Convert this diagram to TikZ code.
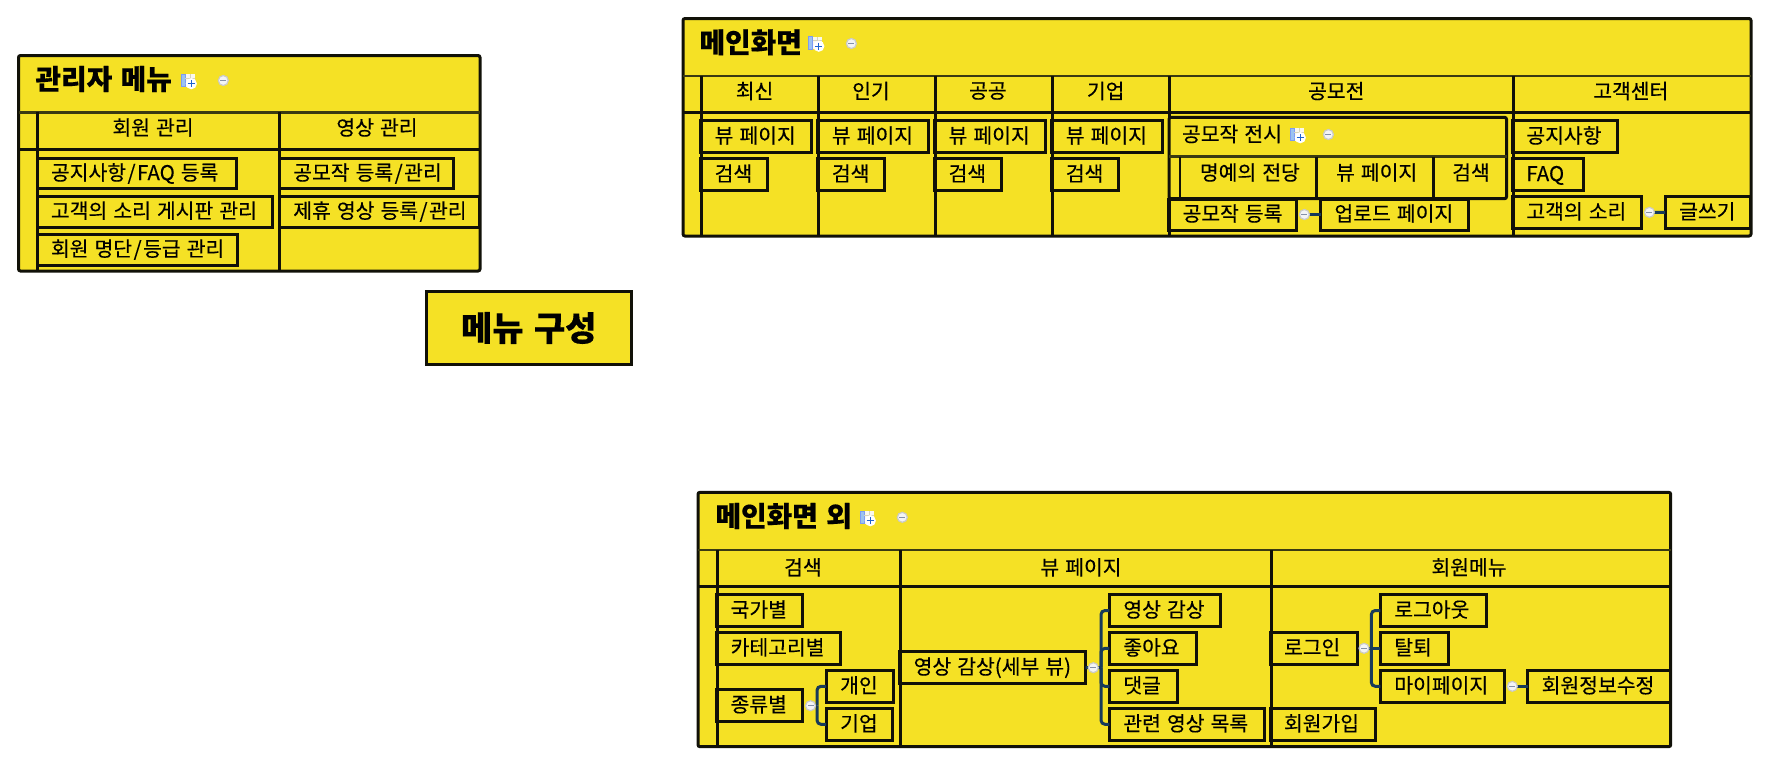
\documentclass[tikz,border=0pt]{standalone}
\usepackage{fontspec}
\setmainfont{Noto Sans CJK KR}[FakeBold=0.3,WordSpace=1.33]
\definecolor{tyellow}{HTML}{F5E125}
\definecolor{tline}{HTML}{111108}
\definecolor{thead}{HTML}{3A3A12}
\definecolor{tconn}{HTML}{173A5A}
\definecolor{mring}{HTML}{CBCBC8}
\definecolor{mbar}{HTML}{8490A8}
\definecolor{iblue}{HTML}{9CC3F0}
\definecolor{igrid}{HTML}{EDE9C8}
\definecolor{iplus}{HTML}{1F63D0}
\pgfdeclarelayer{fg}
\pgfsetlayers{main,fg}
\tikzset{
  framebox/.style={draw=tline,fill=tyellow,line width=3pt,rounded corners=2pt,rectangle,inner sep=0pt,outer sep=0pt},
  rulethin/.style={draw=thead,line width=2.6pt},
  ruleline/.style={draw=tline,line width=3pt},
  itembox/.style={draw=tline,line width=3pt,rectangle,inner ysep=0pt,inner xsep=14pt,outer sep=0pt,font=\fontsize{20.4}{24}\selectfont,anchor=north west},
  celltext/.style={inner sep=0pt,outer sep=0pt,font=\fontsize{20.4}{24}\selectfont},
  titletext/.style={inner sep=0pt,outer sep=0pt,font=\fontsize{27.8}{30}\selectfont\bfseries,anchor=west},
  minusmark/.style={circle,draw=mring,fill=white!90!mbar,line width=1.2pt,minimum size=10pt,inner sep=0pt,outer sep=0pt,
    path picture={\draw[mbar,line width=1.4pt] ([xshift=-3pt]path picture bounding box.center) -- ([xshift=3pt]path picture bounding box.center);}},
  conn/.style={draw=tconn,line width=3pt,rounded corners=4pt},
}
\newcommand{\slashk}{\kern1.5pt/\kern1.5pt}
\newcommand{\mbx}[6]{%
  \pgfmathsetmacro{\mbxw}{#4-#2}\pgfmathsetmacro{\mbxh}{#5-#3}\pgfmathsetmacro{\mbxt}{#4-#2-28}%
  \node[itembox,minimum width=\mbxw pt,minimum height=\mbxh pt] (#1) at (#2,#3)
    {\hbox to \mbxt pt{\rule[-.275em]{0pt}{1.2em}#6\hss}};}
\newcommand{\tblicon}[2]{%
  \begin{scope}[shift={(#1,#2)}]
    \fill[white!70!igrid] (-8,-7.5) rectangle (5.5,5);
    \fill[iblue] (-8,-7.5) rectangle (-4,5);
    \draw[iblue!80!blue,line width=.6pt] (-8,-7.5) rectangle (-4,5);
    \draw[igrid!80!gray,line width=.7pt] (-4,-3.5) -- (5.5,-3.5) (1,-7.5) -- (1,5);
    \fill[white] (2.3,2.2) circle (5.6pt);
    \draw[iplus,line width=1.2pt] (-1.3,2.2) -- (5.9,2.2) (2.3,-1.4) -- (2.3,5.8);
  \end{scope}}
\begin{document}
\begin{tikzpicture}[x=1pt,y=-1pt]
\useasboundingbox (0,0) rectangle (1769,764);

%% admin table
\node[framebox,anchor=north west,minimum width=461.5pt,minimum height=215.5pt] (admin) at (18.5,55.5) {};
\draw[rulethin] (18.5,112.3) -- (480,112.3);
\draw[ruleline] (18.5,149) -- (480,149) (37,112.3) -- (37,271) (279,112.3) -- (279,271);
\node[titletext] (admint) at (35.5,79) {관리자 메뉴};
\tblicon{189}{81.5}
\begin{pgfonlayer}{fg}\node[minusmark] (admm) at (223.3,80.5) {};\end{pgfonlayer}
\node[celltext] (adh1) at (153,127.5) {회원 관리};
\node[celltext] (adh2) at (377,127.5) {영상 관리};
\mbx{a1}{37}{158.3}{236}{188.7}{공지사항\slashk FAQ 등록}
\mbx{a2}{37}{196.3}{272.3}{227}{고객의 소리 게시판 관리}
\mbx{a3}{37}{234.3}{237}{265}{회원 명단\slashk 등급 관리}
\mbx{b1}{279.3}{158.3}{453.3}{188.7}{공모작 등록\slashk 관리}
\mbx{b2}{279.3}{196.3}{479}{227}{제휴 영상 등록\slashk 관리}

%% title box
\node[draw=tline,fill=tyellow,line width=3pt,rectangle,inner sep=0pt,outer sep=0pt,anchor=north west,minimum width=205pt,minimum height=73.4pt,font=\fontsize{34}{38}\selectfont\bfseries] (menu) at (426.3,291.3) {메뉴 구성};

%% main table
\node[framebox,anchor=north west,minimum width=1068pt,minimum height=217.5pt] (mainf) at (683,18.5) {};
\draw[rulethin] (683,76) -- (1751,76);
\draw[ruleline] (683,112.7) -- (1751,112.7)
  (701.4,76) -- (701.4,236) (818.2,76) -- (818.2,236) (935.4,76) -- (935.4,236)
  (1052,76) -- (1052,236) (1169.3,76) -- (1169.3,236) (1513,76) -- (1513,236);
\node[titletext] (maint) at (699.5,42.3) {메인화면};
\tblicon{816.5}{44}
\begin{pgfonlayer}{fg}\node[minusmark] (mainm) at (851.4,43.5) {};\end{pgfonlayer}
\node[celltext] (mh1) at (754.6,91) {최신};
\node[celltext] (mh2) at (871,91) {인기};
\node[celltext] (mh3) at (987.9,91) {공공};
\node[celltext] (mh4) at (1105.7,91) {기업};
\node[celltext] (mh5) at (1336.3,91) {공모전};
\node[celltext] (mh6) at (1630.8,91) {고객센터};
\mbx{v1}{700.7}{120.7}{811.4}{152.3}{뷰 페이지}
\mbx{s1}{700.7}{158.7}{767.1}{190.3}{검색}
\mbx{v2}{817.9}{120.7}{928.6}{152.3}{뷰 페이지}
\mbx{s2}{817.9}{158.7}{884.3}{190.3}{검색}
\mbx{v3}{934.6}{120.7}{1045.7}{152.3}{뷰 페이지}
\mbx{s3}{934.6}{158.7}{1001.4}{190.3}{검색}
\mbx{v4}{1051.8}{120.7}{1162.5}{152.3}{뷰 페이지}
\mbx{s4}{1051.8}{158.7}{1118.2}{190.3}{검색}
%% nested table
\node[framebox,anchor=north west,minimum width=337.5pt,minimum height=81.4pt] (nest) at (1169,117.3) {};
\draw[rulethin] (1169,156.7) -- (1506.5,156.7);
\draw[ruleline,line width=2.8pt] (1180,156.7) -- (1180,198.7) (1316.2,156.7) -- (1316.2,198.7) (1433.4,156.7) -- (1433.4,198.7);
\node[celltext,anchor=west] (nestt) at (1182,134) {공모작 전시};
\tblicon{1298}{135.5}
\begin{pgfonlayer}{fg}\node[minusmark] (nestm) at (1328.4,134.5) {};\end{pgfonlayer}
\node[celltext] (n1) at (1249.9,172.5) {명예의 전당};
\node[celltext] (n2) at (1376.6,172.5) {뷰 페이지};
\node[celltext] (n3) at (1471,172.5) {검색};
\mbx{reg}{1168.6}{199}{1296.5}{230}{공모작 등록}
\mbx{upl}{1320.5}{199}{1468.2}{230}{업로드 페이지}
\begin{pgfonlayer}{fg}\node[minusmark] (regm) at (1304.4,214.5) {};\end{pgfonlayer}
\draw[conn] (regm.center) -- (upl.west);
\mbx{cs1}{1512.4}{120.7}{1617.4}{152.3}{공지사항}
\mbx{cs2}{1512.4}{158.7}{1583.9}{190.3}{FAQ}
\mbx{cs3}{1512.4}{196.7}{1641.5}{228}{고객의 소리}
\mbx{cs4}{1665.2}{196.7}{1750.5}{228}{글쓰기}
\begin{pgfonlayer}{fg}\node[minusmark] (csm) at (1649.4,212.3) {};\end{pgfonlayer}
\draw[conn] (csm.center) -- (cs4.west);

%% third table
\node[framebox,anchor=north west,minimum width=972.7pt,minimum height=254.4pt] (sub) at (698,492.3) {};
\draw[rulethin] (698,550) -- (1670.7,550);
\draw[ruleline] (698,586.7) -- (1670.7,586.7)
  (717.5,550) -- (717.5,746.7) (900.4,550) -- (900.4,746.7) (1271.3,550) -- (1271.3,746.7);
\node[titletext] (subt) at (715.5,516) {메인화면 외};
\tblicon{868}{518.5}
\begin{pgfonlayer}{fg}\node[minusmark] (subm) at (902.3,517.3) {};\end{pgfonlayer}
\node[celltext] (sh1) at (803,567.3) {검색};
\node[celltext] (sh2) at (1081,567.3) {뷰 페이지};
\node[celltext] (sh3) at (1469,567.3) {회원메뉴};
\mbx{g1}{716.7}{594.3}{802.5}{626.7}{국가별}
\mbx{g2}{716.7}{632.3}{840.7}{664.3}{카테고리별}
\mbx{g3}{716.7}{689.3}{802.5}{721.3}{종류별}
\mbx{g4}{826.2}{670.3}{893.5}{702.3}{개인}
\mbx{g5}{826.2}{708.3}{892.4}{740.3}{기업}
\begin{pgfonlayer}{fg}\node[minusmark] (gm) at (810.5,705.7) {};\end{pgfonlayer}
\coordinate (gbr) at (817,705.7);
\draw[conn] (gm.center) -- (gbr);
\draw[conn] (gbr) |- (g4.west);
\draw[conn] (gbr) |- (g5.west);
\mbx{w0}{899.7}{651.7}{1085.7}{683.3}{영상 감상(세부 뷰)}
\mbx{w1}{1109.4}{594.3}{1220.4}{626.7}{영상 감상}
\mbx{w2}{1109.4}{632.3}{1196.6}{664.3}{좋아요}
\mbx{w3}{1109.4}{670.3}{1177.5}{702.3}{댓글}
\mbx{w4}{1109.4}{708.3}{1264.8}{740.3}{관련 영상 목록}
\begin{pgfonlayer}{fg}\node[minusmark] (wm) at (1093.3,667.7) {};\end{pgfonlayer}
\coordinate (wbr) at (1101,667.7);
\draw[conn] (w0.east) -- (wbr);
\draw[conn] (wbr) |- (w1.west);
\draw[conn] (wbr) |- (w2.west);
\draw[conn] (wbr) |- (w3.west);
\draw[conn] (wbr) |- (w4.west);
\mbx{u0}{1270}{632.3}{1357}{664.3}{로그인}
\mbx{u1}{1380.3}{594.3}{1486.7}{626.7}{로그아웃}
\mbx{u2}{1380.3}{632.3}{1448.7}{664.3}{탈퇴}
\mbx{u3}{1380.3}{670.3}{1504.7}{702.3}{마이페이지}
\mbx{u4}{1527.7}{670.3}{1670}{702.3}{회원정보수정}
\mbx{u5}{1270}{708.3}{1375.7}{740.3}{회원가입}
\begin{pgfonlayer}{fg}\node[minusmark] (um) at (1364,648.3) {};\end{pgfonlayer}
\coordinate (ubr) at (1371.3,648.3);
\draw[conn] (um.center) -- (u2.west);
\draw[conn] (ubr) |- (u1.west);
\draw[conn] (ubr) |- (u3.west);
\begin{pgfonlayer}{fg}\node[minusmark] (um2) at (1512.3,686.3) {};\end{pgfonlayer}
\draw[conn] (um2.center) -- (u4.west);
\end{tikzpicture}
\end{document}
